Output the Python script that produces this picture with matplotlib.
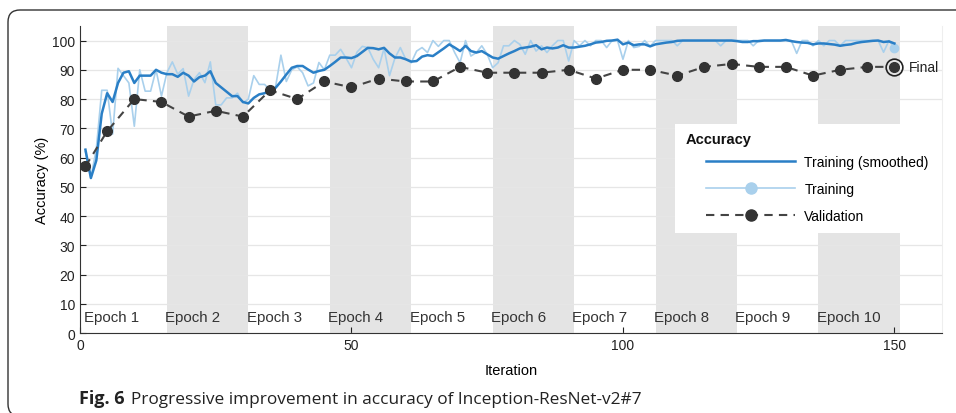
import matplotlib

matplotlib.use("Agg")
import matplotlib.pyplot as plt
from matplotlib.patches import FancyBboxPatch, Rectangle
from matplotlib.transforms import IdentityTransform

plt.rcParams["font.family"] = ["Liberation Sans", "DejaVu Sans"]

# Training accuracy per iteration (1..150)
train_raw = [
    62, 53, 63, 83, 83, 68, 90.5, 88, 85.5, 70.7,
    90, 82.7, 82.7, 90, 81, 89, 92.7, 88.5, 90.4, 81,
    86.7, 89, 85.6, 92.7, 78, 78, 80.4, 80.4, 82, 78.7,
    80, 88, 85, 85, 83, 84, 95, 86, 90, 91,
    89, 84.5, 85.5, 92.5, 90, 95, 95, 97, 94, 90.7,
    96, 98, 97.6, 93.6, 90.7, 97.3, 88, 94, 97.6, 93.6,
    92.4, 96.4, 97.6, 95.9, 100, 98, 100, 100, 95.9, 92.4,
    100, 94.7, 95.9, 98.2, 95.3, 90.7, 92.4, 98.2, 98.2, 100,
    98.7, 95.3, 100, 96.4, 98.2, 95.9, 98.2, 100, 100, 93,
    100, 98.2, 100, 98.2, 100, 100, 97.6, 100, 100, 93.6,
    100, 97.6, 98, 100, 98, 100, 100, 100, 100, 98.2,
    100, 100, 100, 100, 100, 100, 100, 98.2, 100, 100,
    100, 100, 100, 98.2, 100, 100, 100, 100, 100, 100,
    100, 95.6, 100, 100, 98.2, 100, 98.2, 100, 100, 98.2,
    100, 100, 100, 100, 100, 100, 100, 96, 100, 97.6,
]

train_smooth = [
    62.7, 53, 59, 75, 82, 79, 85.5, 89, 89.5, 85.5,
    88, 88, 88, 90, 89, 88.5, 88.5, 87.6, 89, 88,
    86, 87.5, 88, 89.5, 85.5, 84, 82.5, 81, 81, 79,
    78.5, 80.4, 81.6, 82, 83, 83.8, 86, 88.4, 90.7, 91.3,
    91.3, 90.1, 89, 89.6, 90, 91.3, 92.7, 94.2, 94.2, 94,
    94.7, 96.1, 97.5, 97.4, 97, 97.5, 95.6, 94.2, 94.2, 93.6,
    92.8, 93, 94.5, 95, 94.7, 96, 97.3, 98.7, 97.6, 96.4,
    98.2, 96.4, 95.9, 96.4, 95.3, 94.2, 93.8, 94.7, 95.6, 96.4,
    97.3, 97.6, 97.9, 98.4, 97, 97.6, 97.3, 97.6, 98.4, 97.6,
    97.6, 97.9, 98.2, 98.7, 99.3, 99.5, 99.9, 100, 100.3, 98.7,
    99.3, 98.4, 98.7, 98.7, 98, 98.7, 99, 99.3, 99.5, 99.9,
    100, 100, 100, 100, 100, 100, 100, 100, 100, 100,
    99.8, 99.5, 99.5, 99.8, 99.8, 100, 100, 100, 100, 100.2,
    99.8, 99.5, 99.3, 99.2, 98.7, 99, 99, 98.8, 98.6, 98.2,
    98.5, 98.7, 99.2, 99.5, 99.7, 99.9, 100, 99.5, 99.7, 99,
]

val_iter = [1, 5, 10, 15, 20, 25, 30, 35, 40, 45, 50, 55, 60, 65, 70, 75,
            80, 85, 90, 95, 100, 105, 110, 115, 120, 125, 130, 135, 140, 145, 150]
val_acc = [57, 69, 80, 79, 74, 76, 74, 83, 80, 86, 84, 87, 86, 86, 91, 89,
           89, 89, 90, 87, 90, 90, 88, 91, 92, 91, 91, 88, 90, 91, 91]

epochs = [f"Epoch {k}" for k in range(1, 11)]
iters_per_epoch = 15

iters = list(range(1, len(train_raw) + 1))

fig = plt.figure(figsize=(9.56, 4.14), dpi=100)
ax = fig.add_axes([0.0837, 0.193, 0.9013, 0.742])

# shaded bands for even epochs, labels for all
for k, name in enumerate(epochs):
    start = k * iters_per_epoch + 1
    if k % 2 == 1:
        ax.axvspan(start, start + iters_per_epoch, color="#e4e4e4", lw=0, zorder=0)
    ax.text(start - 0.3, 5.4, name, fontsize=10.8, color="#333333",
            ha="left", va="center", zorder=3)

ax.plot(iters, train_raw, color="#a9d0ec", lw=1.2, zorder=2)
ax.plot(iters[-1], train_raw[-1], "o", color="#a9d0ec", ms=6, zorder=2)
ax.plot(iters, train_smooth, color="#2a7fc6", lw=1.8, zorder=4)
ax.plot(val_iter, val_acc, color="#444444", lw=1.5, ls=(0, (4, 3)),
        marker="o", ms=7, mfc="#333333", mec="#333333", zorder=5)

# final marker
ax.plot(val_iter[-1], val_acc[-1], "o", ms=12, mfc="none", mec="#222222",
        mew=1.2, zorder=6)
ax.text(val_iter[-1] + 2.6, val_acc[-1], "Final", fontsize=10, color="#222222",
        va="center", ha="left", zorder=6)

# legend: white panel, title text, frameless legend on top
ax.add_patch(Rectangle((0.690, 0.326), 0.31, 0.355, transform=ax.transAxes,
                       facecolor="white", edgecolor="none", zorder=9))
ax.text(0.703, 0.632, "Accuracy", transform=ax.transAxes, fontsize=10.5,
        fontweight="bold", color="#111111", va="center", ha="left", zorder=11)
h1, = ax.plot([], [], color="#2a7fc6", lw=1.8)
h2, = ax.plot([], [], color="#a9d0ec", lw=1.2, marker="o", ms=8)
h3, = ax.plot([], [], color="#444444", lw=1.5, ls=(0, (4, 3)), marker="o",
              ms=8, mfc="#333333", mec="#333333")
leg = ax.legend([h1, h2, h3], ["Training (smoothed)", "Training", "Validation"],
                loc="upper left", bbox_to_anchor=(0.727, 0.58),
                fontsize=10, handlelength=6.4, handletextpad=0.65,
                labelspacing=0.95, borderpad=0, borderaxespad=0,
                frameon=False)
leg.set_zorder(11)

ax.set_xlim(0, 158.7)
ax.set_ylim(0, 105)
ax.set_xticks([0, 50, 100, 150])
ax.set_yticks(range(0, 101, 10))
ax.tick_params(direction="in", length=4, labelsize=10, colors="#222222")
ax.yaxis.grid(True, color="#e6e6e6", lw=0.9)
ax.set_axisbelow(True)
ax.spines["top"].set_visible(False)
ax.spines["right"].set_color("#eeeeee")
for side in ("left", "bottom"):
    ax.spines[side].set_color("#333333")

ax.set_xlabel("Iteration", fontsize=10.5, labelpad=8)
ax.set_ylabel("Accuracy (%)", fontsize=10.5, labelpad=2)

# caption
fig.text(0.083, 0.025, "Fig. 6", fontsize=13, fontweight="bold",
         family=["Open Sans", "DejaVu Sans"], color="#222222")
fig.text(0.137, 0.025, "Progressive improvement in accuracy of Inception-ResNet-v2#7",
         fontsize=12.4, family=["Open Sans", "DejaVu Sans"], color="#222222")

# rounded figure frame, open on the right
frame = FancyBboxPatch((8, -3), 1100, 406, boxstyle="round,pad=0,rounding_size=12",
                       transform=IdentityTransform(), fill=False, lw=1.0,
                       ec="#333333")
fig.add_artist(frame)

fig.savefig("out.png", dpi=100)
